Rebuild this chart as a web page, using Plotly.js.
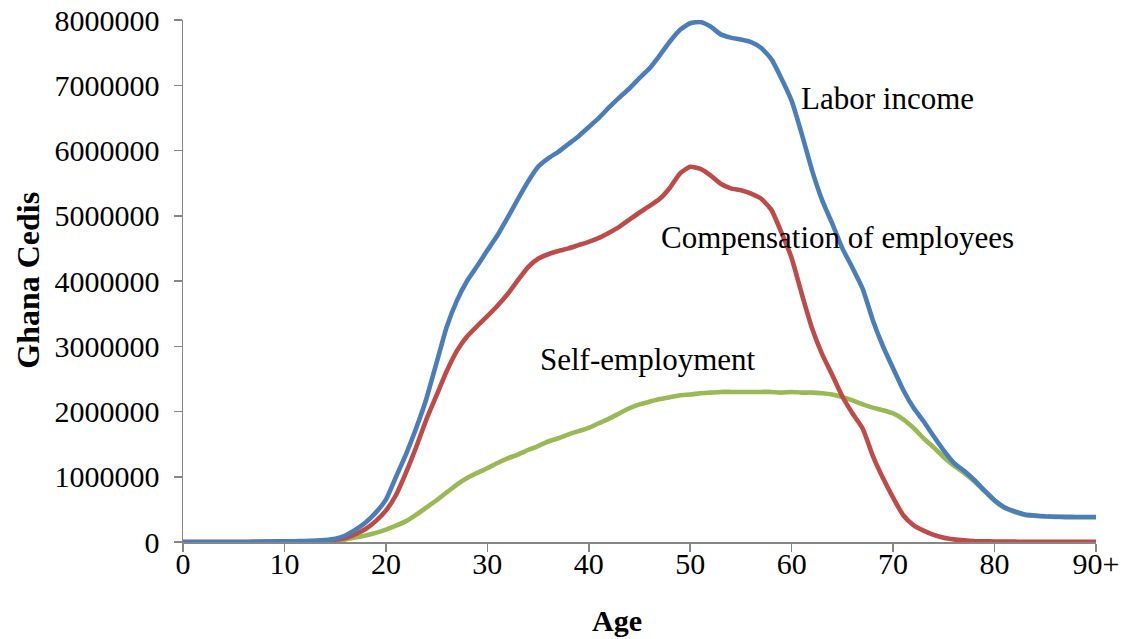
<!DOCTYPE html>
<html>
<head>
<meta charset="utf-8">
<script src="https://cdn.plot.ly/plotly-3.0.1.min.js"></script>
<style>
  html, body { margin: 0; padding: 0; background: #ffffff; }
  #chart { width: 1128px; height: 639px; }
</style>
</head>
<body>
<div id="chart"></div>
<script>
// Age 0 .. 90 (90 = "90+")
const ages = [];
for (let a = 0; a <= 90; a++) ages.push(a);

const xTickVals = [0, 10, 20, 30, 40, 50, 60, 70, 80, 90];
const xTickText = ["0", "10", "20", "30", "40", "50", "60", "70", "80", "90+"];

// Labor income (Ghana Cedis), ages 0..90
const laborIncome = [
  0, 0, 0, 0, 0, 0, 0, 2000, 5000, 8000,
  10000, 12000, 15000, 20000, 30000, 50000, 100000, 190000, 300000, 450000,
  650000, 1000000, 1350000, 1750000, 2200000, 2750000, 3300000, 3700000, 4000000, 4230000,
  4470000, 4700000, 4970000, 5250000, 5520000, 5750000, 5880000, 5980000, 6100000, 6220000,
  6360000, 6500000, 6660000, 6810000, 6950000, 7110000, 7260000, 7460000, 7670000, 7850000,
  7950000, 7970000, 7900000, 7780000, 7730000, 7700000, 7660000, 7570000, 7400000, 7100000,
  6760000, 6250000, 5700000, 5240000, 4880000, 4500000, 4200000, 3880000, 3400000, 3000000,
  2660000, 2330000, 2060000, 1850000, 1620000, 1400000, 1210000, 1090000, 950000, 790000,
  640000, 530000, 470000, 420000, 405000, 394000, 388000, 385000, 384000, 384000,
  384000
];

// Compensation of employees
const compensation = [
  0, 0, 0, 0, 0, 0, 0, 2000, 4000, 6000,
  8000, 9000, 10000, 14000, 20000, 35000, 60000, 120000, 200000, 320000,
  480000, 720000, 1070000, 1460000, 1880000, 2250000, 2620000, 2930000, 3150000, 3310000,
  3460000, 3620000, 3800000, 4010000, 4210000, 4340000, 4410000, 4460000, 4500000, 4550000,
  4600000, 4660000, 4740000, 4830000, 4940000, 5050000, 5150000, 5260000, 5430000, 5650000,
  5750000, 5720000, 5620000, 5490000, 5420000, 5390000, 5340000, 5260000, 5090000, 4740000,
  4350000, 3800000, 3280000, 2880000, 2560000, 2230000, 1970000, 1740000, 1320000, 980000,
  680000, 410000, 260000, 175000, 110000, 65000, 40000, 25000, 15000, 10000,
  8000, 6000, 5000, 4000, 4000, 3000, 3000, 3000, 3000, 3000,
  3000
];

// Self-employment
const selfEmployment = [
  0, 0, 0, 0, 0, 0, 0, 0, 0, 0,
  0, 0, 0, 0, 10000, 20000, 40000, 70000, 100000, 140000,
  190000, 250000, 320000, 420000, 530000, 640000, 760000, 880000, 980000, 1060000,
  1130000, 1210000, 1280000, 1340000, 1410000, 1470000, 1540000, 1590000, 1650000, 1700000,
  1750000, 1820000, 1890000, 1970000, 2050000, 2110000, 2150000, 2190000, 2220000, 2250000,
  2260000, 2280000, 2290000, 2300000, 2300000, 2300000, 2300000, 2300000, 2300000, 2290000,
  2300000, 2290000, 2290000, 2280000, 2260000, 2220000, 2170000, 2110000, 2060000, 2020000,
  1970000, 1880000, 1750000, 1590000, 1450000, 1300000, 1170000, 1060000, 930000, 780000,
  630000, 520000, 460000, 415000, 400000, 390000, 385000, 380000, 380000, 380000,
  380000
];

const seriesNames = ["Labor income", "Compensation of employees", "Self-employment"];
const seriesColors = ["#4A7EBB", "#BE4B48", "#98B954"];
const seriesData = [laborIncome, compensation, selfEmployment];

// label anchor positions in data units
const labelAges = [60.7, 46.9, 35.0];
const labelValues = [6800000, 4670000, 2790000];

const xTitle = "Age";
const yTitle = "Ghana Cedis";

const fontFamily = "Liberation Serif, serif";

// draw self-employment first, then compensation, then labor (labor on top)
const order = [2, 1, 0];
const traces = order.map(i => ({
  type: "scatter",
  mode: "lines",
  x: ages,
  y: seriesData[i],
  name: seriesNames[i],
  line: { color: seriesColors[i], width: 4.6, shape: "spline", smoothing: 0.5 },
  hoverinfo: "x+y+name"
}));

const annotations = seriesNames.map((n, i) => ({
  x: labelAges[i],
  y: labelValues[i],
  xref: "x",
  yref: "y",
  text: n,
  showarrow: false,
  xanchor: "left",
  yanchor: "middle",
  font: { family: fontFamily, size: 31, color: "#000000" }
}));

annotations.push({
  x: 0.4753, y: -0.151, xref: "paper", yref: "paper",
  text: "<b>" + xTitle + "</b>", showarrow: false,
  xanchor: "center", yanchor: "middle",
  font: { family: fontFamily, size: 30, color: "#000000" }
});
annotations.push({
  x: -0.170, y: 0.502, xref: "paper", yref: "paper",
  text: "<b>" + yTitle + "</b>", showarrow: false, textangle: -90,
  xanchor: "center", yanchor: "middle",
  font: { family: fontFamily, size: 32, color: "#000000" }
});

const layout = {
  width: 1128,
  height: 639,
  margin: { l: 183, r: 32, t: 20, b: 97 },
  paper_bgcolor: "#ffffff",
  plot_bgcolor: "#ffffff",
  showlegend: false,
  font: { family: fontFamily, size: 30, color: "#000000" },
  xaxis: {
    range: [0, 90],
    tickmode: "array",
    tickvals: xTickVals,
    ticktext: xTickText,
    showgrid: false,
    zeroline: false,
    showline: true,
    linecolor: "#868686",
    linewidth: 1.5,
    ticks: "outside",
    ticklen: 8,
    tickwidth: 1.5,
    tickcolor: "#868686",
    ticklabelstandoff: -14,
    tickfont: { family: fontFamily, size: 30, color: "#000000" }
  },
  yaxis: {
    range: [0, 8000000],
    dtick: 1000000,
    tick0: 0,
    tickformat: "d",
    showgrid: false,
    zeroline: false,
    showline: true,
    linecolor: "#868686",
    linewidth: 1.5,
    ticks: "outside",
    ticklen: 8,
    tickwidth: 1.5,
    tickcolor: "#868686",
    ticklabelstandoff: 8,
    tickfont: { family: fontFamily, size: 30, color: "#000000" }
  },
  annotations: annotations
};

Plotly.newPlot("chart", traces, layout, { displayModeBar: false, staticPlot: true });
</script>
</body>
</html>
